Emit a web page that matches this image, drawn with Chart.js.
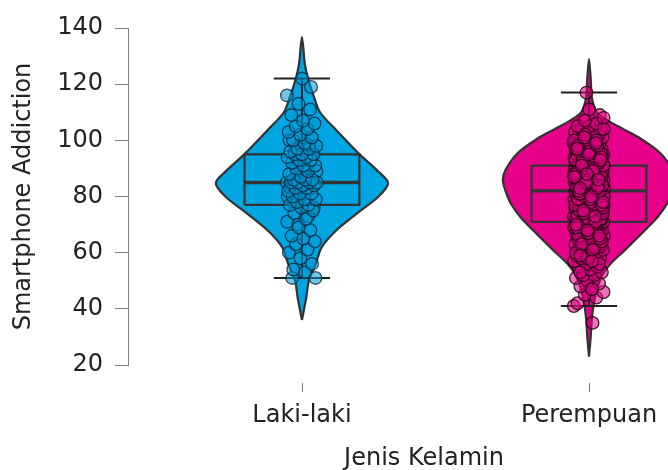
<!DOCTYPE html>
<html>
<head>
<meta charset="utf-8">
<script src="https://cdn.jsdelivr.net/npm/chart.js@4.4.0/dist/chart.umd.min.js"></script>
<style>
  body { margin: 0; background: #fff; }
  #wrap { width: 668px; height: 470px; overflow: hidden; }
</style>
</head>
<body>
<div id="wrap"><canvas id="chart" width="720" height="490"></canvas></div>
<script>
// groups and axis
const categories = ['Laki-laki', 'Perempuan'];
const yTicks = [20, 40, 60, 80, 100, 120, 140];

// box plot stats per group
const whiskerLow = [51, 41];
const q1 = [77, 71];
const median = [85, 82];
const q3 = [95, 91];
const whiskerHigh = [122, 117];

// violin outline: value grid and relative density (0..1)
const violinLakiValues = [36, 44, 50, 56, 62, 68, 74, 80, 84.8, 89.4, 95, 103.6, 110, 115.5, 121, 127, 136.8];
const violinLakiDensity = [0, 0.05, 0.08, 0.16, 0.23, 0.40, 0.64, 0.89, 1.0, 0.87, 0.67, 0.40, 0.21, 0.14, 0.08, 0.035, 0];
const violinPerempuanValues = [23, 30, 37, 44, 51, 56, 61, 68, 72.8, 77.6, 82, 85.8, 89.4, 95.4, 101, 104, 107, 110, 115, 122, 129];
const violinPerempuanDensity = [0, 0.02, 0.035, 0.07, 0.14, 0.25, 0.42, 0.65, 0.80, 0.91, 0.97, 1.0, 0.97, 0.83, 0.58, 0.40, 0.22, 0.09, 0.035, 0.02, 0];

// individual observations (order only affects the jitter slot)
const pointsLaki = [
  85, 90, 78, 95, 82, 100, 73, 88, 51, 84, 51, 119, 92, 80, 87, 96, 76, 122, 83, 98, 70, 89,
  53, 54, 56, 58, 60, 61, 63, 64, 65, 66, 68, 69, 71, 72, 74, 75, 76,
  77, 77, 78, 79, 79, 80, 81, 81, 82, 83, 83, 84, 84, 85, 85, 85, 85,
  86, 86, 86, 87, 88, 89, 90, 91, 91, 92, 93, 93, 94, 94, 95, 95, 95,
  96, 97, 97, 98, 99, 100, 101, 102, 103, 104, 105, 106, 107, 109, 111, 113, 116
];
const pointsPerempuan = [
  41, 35, 80, 109, 85, 70, 90, 75, 88, 66, 83, 78, 117, 93, 72, 86, 62, 111,
  42, 44, 45, 46, 47, 48, 49, 50, 51, 52, 52, 53, 54, 55, 55, 56, 57, 57, 58, 58, 59, 59,
  60, 60, 61, 61, 62, 62, 63, 63, 63, 64, 64, 64, 65, 65, 65, 66, 66, 66, 67, 67, 67, 67, 68, 68,
  68, 68, 69, 69, 69, 69, 70, 70, 70, 70, 70, 70,
  71, 71, 71, 71, 71, 72, 72, 72, 72, 72, 73, 73, 73, 73, 73, 74, 74, 74, 74, 74, 75, 75, 75, 75,
  75, 75, 76, 76, 76, 76, 76, 76, 77, 77, 77, 77, 77, 77, 78, 78, 78, 78, 78, 78, 79, 79, 79, 79,
  79, 79, 80, 80, 80, 80, 80, 81, 81, 81, 81, 81,
  82, 82, 82, 82, 82, 82, 83, 83, 83, 83, 83, 83, 83, 84, 84, 84, 84, 84, 84, 84, 85, 85, 85, 85,
  85, 85, 85, 86, 86, 86, 86, 86, 86, 86, 87, 87, 87, 87, 87, 87, 87, 88, 88, 88, 88, 88, 88, 88,
  89, 89, 89, 89, 89, 89, 90, 90, 90, 90, 90, 90,
  91, 91, 91, 91, 91, 92, 92, 92, 92, 92, 93, 93, 93, 93, 93, 94, 94, 94, 94, 94, 95, 95, 95, 95,
  95, 96, 96, 96, 96, 97, 97, 97, 97, 98, 98, 98, 98, 99, 99, 99, 99, 100, 100, 100, 101, 101, 101,
  102, 102, 102, 103, 103, 104, 104, 105, 105, 106, 107, 108,
  47, 53, 56, 58, 60, 62, 63, 64, 65, 66, 67, 68, 69, 70, 71, 72, 72, 73, 73, 74, 74, 75, 75, 76,
  76, 77, 77, 78, 78, 79, 79, 80, 80, 80, 81, 81, 82, 82, 83, 83, 84, 84, 85, 85, 86, 86, 87, 87,
  88, 88, 89, 89, 90, 90, 91, 91, 92, 92, 93, 93, 94, 94, 95, 96, 97, 98, 99, 100, 61, 63, 65, 67,
  69, 71, 74, 76, 78, 81, 84, 86, 88, 90, 92, 94, 96, 98, 100, 102, 104, 57, 59, 66, 68, 70, 73,
  75, 77, 79, 82, 83, 85, 87, 89, 91, 93, 95, 97, 99, 101, 78, 80, 83, 86, 88
];

const fills = ['#00a6e2', '#e6008a'];
const pointFills = ['rgba(0, 150, 210, 0.55)', 'rgba(220, 0, 128, 0.55)'];
const pointEdges = ['rgba(10, 40, 60, 0.8)', 'rgba(40, 0, 20, 0.85)'];
const VIOLIN_HALF = 0.30;
const BOX_HALF = 0.2;
const CAP_HALF = 0.098;
const JITTER = [0.053, 0.053];

function violinData(g, values, dens) {
  const c = g + 1;
  const right = values.map((v, k) => ({ x: c + dens[k] * VIOLIN_HALF, y: v }));
  const left = values.map((v, k) => ({ x: c - dens[k] * VIOLIN_HALF, y: v })).reverse();
  return right.concat(left.slice(1));
}

function jittered(g, values) {
  return values.map((v, i) => ({ x: g + 1 + (((i * 0.6180339887) % 1) - 0.5) * 2 * JITTER[g], y: v }));
}

const lineBase = { type: 'line', showLine: true, pointRadius: 0, tension: 0, fill: false, borderColor: '#333' };
const datasets = [];
const violins = [[violinLakiValues, violinLakiDensity], [violinPerempuanValues, violinPerempuanDensity]];
const pts = [pointsLaki, pointsPerempuan];

categories.forEach((name, g) => {
  const c = g + 1;
  datasets.push({ ...lineBase, order: 4, data: violinData(g, violins[g][0], violins[g][1]),
    tension: 0.3, fill: 'shape', backgroundColor: fills[g], borderWidth: 2.2 });
  datasets.push({ ...lineBase, order: 3, borderWidth: 2.2, data: [
    { x: c - BOX_HALF, y: q1[g] }, { x: c + BOX_HALF, y: q1[g] }, { x: c + BOX_HALF, y: q3[g] },
    { x: c - BOX_HALF, y: q3[g] }, { x: c - BOX_HALF, y: q1[g] }] });
  datasets.push({ ...lineBase, order: 3, borderWidth: 3.4, data: [{ x: c - BOX_HALF, y: median[g] }, { x: c + BOX_HALF, y: median[g] }] });
  datasets.push({ ...lineBase, order: 2, borderWidth: 2, borderColor: '#222', data: [{ x: c, y: whiskerLow[g] }, { x: c, y: whiskerHigh[g] }] });
  datasets.push({ ...lineBase, order: 2, borderWidth: 2, borderColor: '#222', data: [{ x: c - CAP_HALF, y: whiskerLow[g] }, { x: c + CAP_HALF, y: whiskerLow[g] }] });
  datasets.push({ ...lineBase, order: 2, borderWidth: 2, borderColor: '#222', data: [{ x: c - CAP_HALF, y: whiskerHigh[g] }, { x: c + CAP_HALF, y: whiskerHigh[g] }] });
  datasets.push({ type: 'scatter', order: 0, data: jittered(g, pts[g]), pointRadius: 6.3,
    pointBackgroundColor: pointFills[g], pointBorderColor: pointEdges[g], pointBorderWidth: 1.3 });
});

// small tick marks under each group, detached from the plot area
const xTickMarks = {
  id: 'xTickMarks',
  afterDraw(chart) {
    const ctx = chart.ctx;
    const xs = chart.scales.x;
    const b = chart.chartArea.bottom;
    ctx.save();
    ctx.strokeStyle = '#777';
    ctx.lineWidth = 1;
    categories.forEach((_, g) => {
      const px = Math.round(xs.getPixelForValue(g + 1)) + 0.5;
      ctx.beginPath();
      ctx.moveTo(px, b + 18);
      ctx.lineTo(px, b + 27);
      ctx.stroke();
    });
    ctx.restore();
  }
};

const font = { family: 'DejaVu Sans', size: 24 };

new Chart(document.getElementById('chart'), {
  type: 'scatter',
  data: { datasets },
  plugins: [xTickMarks],
  options: {
    responsive: false,
    animation: false,
    events: [],
    layout: { autoPadding: false, padding: { top: 28, left: 0, right: 0, bottom: 0 } },
    plugins: { legend: { display: false }, tooltip: { enabled: false } },
    scales: {
      x: {
        type: 'linear',
        min: 0.394,
        max: 2.4564,
        afterFit: (s) => { s.height = 125; },
        afterBuildTicks: (s) => { s.ticks = categories.map((_, g) => ({ value: g + 1 })); },
        grid: { display: false, drawTicks: false },
        border: { display: false },
        ticks: { padding: 36, color: '#222', font, callback: (v) => categories[v - 1] },
        title: { display: true, text: 'Jenis Kelamin', color: '#222', font, padding: { top: 0, bottom: 17 } }
      },
      y: {
        min: 20,
        max: 140,
        afterFit: (s) => { s.width = 128; },
        afterBuildTicks: (s) => { s.ticks = yTicks.map((v) => ({ value: v })); },
        grid: { drawOnChartArea: false, tickLength: 13, color: '#808080' },
        border: { display: true, color: '#808080', width: 1 },
        ticks: { padding: 12, color: '#222', font },
        title: { display: true, text: 'Smartphone Addiction', color: '#222', font, padding: { top: 9, bottom: 0 } }
      }
    }
  }
});
</script>
</body>
</html>
